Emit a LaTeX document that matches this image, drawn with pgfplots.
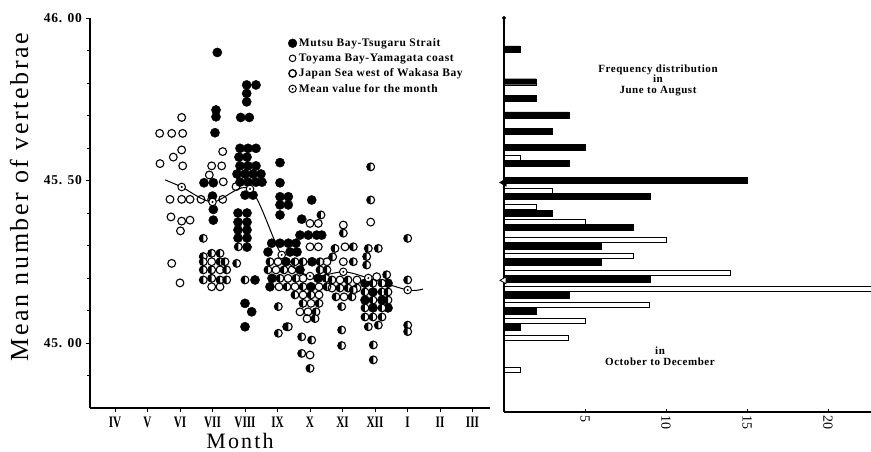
\documentclass[border=0pt]{standalone}
\usepackage{fontspec}
\setmainfont{Liberation Serif}
\newfontfamily\widefont[LetterSpace=10]{Liberation Serif}
\newfontfamily\legfont[LetterSpace=5]{Liberation Serif}
\usepackage{pgfplots}
\pgfplotsset{compat=1.18}
\newcommand\rn[1]{\scalebox{0.7}[1]{\bfseries #1}}
\pgfdeclareplotmark{halfL}{%
  \pgfpathcircle{\pgfpointorigin}{\pgfplotmarksize}%
  \pgfsetfillcolor{white}\pgfusepath{fill}%
  \pgfpathmoveto{\pgfpoint{0pt}{\pgfplotmarksize}}%
  \pgfpatharc{90}{270}{\pgfplotmarksize}%
  \pgfpathclose
  \pgfsetfillcolor{black}\pgfusepath{fill}%
  \pgfpathcircle{\pgfpointorigin}{\pgfplotmarksize}%
  \pgfusepath{stroke}}
\pgfdeclareplotmark{meanmark}{%
  \pgfpathcircle{\pgfpointorigin}{\pgfplotmarksize}%
  \pgfsetfillcolor{white}\pgfusepath{fill,stroke}%
  \pgfpathcircle{\pgfpointorigin}{0.28\pgfplotmarksize}%
  \pgfsetfillcolor{black}\pgfusepath{fill}}
\begin{document}
\begin{tikzpicture}
\useasboundingbox (0pt,0pt) rectangle (871pt,-452pt);
% ---------------- left panel ----------------
\begin{axis}[at={(90pt,-408pt)}, anchor=south west, scale only axis,
  width=400pt, height=390pt,
  xmin=3.231, xmax=15.538, ymin=44.8, ymax=46.0,
  axis x line=bottom, axis y line=left,
  axis line style={-, line width=1.4pt},
  xtick={4,...,15},
  xticklabels={\rn{IV},\rn{V},\rn{VI},\rn{VII},\rn{VIII},\rn{IX},\rn{X},\rn{XI},\rn{XII},\rn{I},\rn{II},\rn{III}},
  xticklabel style={font=\fontsize{16}{17}\selectfont, yshift=-1pt},
  ytick={45,45.5,46},
  yticklabels={\textbf{45. 00},\textbf{45. 50},\textbf{46. 00}},
  yticklabel style={font=\legfont\bfseries\fontsize{13.5}{14}\selectfont},
  minor ytick={44.9,45.1,45.2,45.3,45.4,45.6,45.7,45.8,45.9},
  tick align=outside, major tick length=4pt, minor tick length=2.5pt,
  tick style={line width=0.8pt, black},
  legend style={at={(0.495,0.953)}, anchor=north west, draw=none, fill=none,
    font=\legfont\bfseries\fontsize{11.5}{12}\selectfont, row sep=1.8pt,
    inner sep=0pt},
  legend cell align=left,
  legend image code/.code={\draw[mark repeat=2,mark phase=2,#1] plot coordinates {(0cm,0cm)(0.13cm,0cm)(0.26cm,0cm)};},
  clip=false,
]
\addlegendimage{only marks, mark=*, mark size=4.4pt}
\addlegendentry{Mutsu Bay-Tsugaru Strait}
\addlegendimage{only marks, mark=o, mark size=3.3pt, line width=1pt}
\addlegendentry{Toyama Bay-Yamagata coast}
\addlegendimage{only marks, mark=o, mark size=3.7pt, line width=1.4pt}
\addlegendentry{Japan Sea west of Wakasa Bay}
\addlegendimage{only marks, mark=meanmark, mark size=3.7pt, line width=1pt}
\addlegendentry{Mean value for the month}
% Mutsu Bay - Tsugaru Strait (filled)
\addplot[forget plot, only marks, mark=*, mark size=4.6pt, black] coordinates {
(7.148,45.894)(7.108,45.717)(7.108,45.696)(7.077,45.647)(6.738,45.493)(7.025,45.493)
(7.000,45.452)(7.025,45.411)(7.025,45.378)
(8.052,45.794)(8.338,45.794)(8.052,45.768)(8.052,45.742)(7.868,45.694)(8.132,45.694)
(7.846,45.599)(8.092,45.599)(8.338,45.599)(7.815,45.572)(8.062,45.572)
(7.846,45.545)(8.092,45.545)(8.338,45.545)
(7.754,45.520)(8.000,45.520)(8.246,45.520)(8.492,45.520)
(7.846,45.495)(8.092,45.495)(8.338,45.495)(8.523,45.495)(8.000,45.455)(8.246,45.455)
(7.785,45.400)(8.062,45.400)(7.785,45.372)(8.062,45.372)(7.785,45.348)(8.062,45.348)
(7.785,45.323)(8.062,45.323)(8.062,45.295)(8.308,45.194)(8.000,45.122)(8.206,45.096)(8.000,45.050)
(9.077,45.555)(9.077,45.493)(9.077,45.450)(9.332,45.450)(9.077,45.425)(9.332,45.425)(9.077,45.394)
(8.822,45.307)(9.077,45.307)(9.332,45.307)(9.569,45.307)(8.708,45.280)(9.385,45.280)(9.600,45.280)
(10.052,45.440)(9.745,45.381)(9.692,45.332)(9.948,45.332)(10.206,45.332)(10.360,45.332)
(9.262,45.250)(10.062,45.250)(9.692,45.225)(8.831,45.199)(10.246,45.199)(8.769,45.173)(10.031,45.173)
(11.692,45.184)(12.400,45.184)(11.938,45.157)(11.692,45.132)(12.215,45.132)(11.938,45.108)(12.400,45.108)
};
% Japan Sea west of Wakasa Bay (half filled)
\addplot[forget plot, only marks, mark=halfL, mark size=3.9pt, line width=1.1pt, black] coordinates {
(6.717,45.322)(6.717,45.266)(6.975,45.276)(7.231,45.276)
(6.717,45.250)(7.231,45.250)(7.385,45.250)
(6.717,45.225)(6.975,45.225)(7.437,45.225)
(6.717,45.194)(6.975,45.199)(7.231,45.194)(7.437,45.194)
(7.794,45.296)(7.745,45.245)(8.000,45.194)
(9.025,45.112)(9.283,45.050)(9.025,45.030)
(8.769,45.250)(9.538,45.250)(9.785,45.250)(10.308,45.250)(8.708,45.225)(9.200,45.225)(10.308,45.225)(10.523,45.225)
(9.077,45.199)(9.569,45.199)(10.492,45.199)(9.292,45.173)(9.785,45.173)(10.523,45.173)
(9.538,45.148)(10.031,45.148)(9.785,45.122)(10.277,45.122)(10.185,45.096)(10.154,45.075)
(10.338,45.394)(9.332,45.050)(9.745,45.019)(10.052,45.009)(9.745,44.968)(10.000,44.922)
(11.025,45.338)(10.769,45.291)(10.698,45.265)(10.677,45.194)(11.169,45.194)
(10.923,45.169)(11.169,45.169)(11.446,45.169)(10.800,45.142)(11.292,45.142)
(10.975,45.112)(10.975,45.040)(10.975,44.992)
(11.332,45.296)(11.332,45.250)(11.332,45.163)
(11.868,45.542)(11.868,45.440)(11.794,45.291)(12.102,45.291)(11.745,45.266)(11.745,45.240)
(12.360,45.210)(11.938,45.184)(12.215,45.184)(11.692,45.157)(12.215,45.157)(12.400,45.157)
(11.938,45.132)(12.400,45.132)(11.692,45.108)(12.215,45.108)(11.692,45.080)(11.938,45.080)(12.215,45.080)
(11.794,45.050)(12.102,45.055)(11.948,44.994)(11.948,44.948)
(13.006,45.322)(13.006,45.194)(13.006,45.055)(13.006,45.035)
};
% Toyama Bay - Yamagata coast (open)
\addplot[forget plot, only marks, mark=o, mark size=3.9pt, line width=1.1pt, black] coordinates {
(6.052,45.694)(5.374,45.645)(5.745,45.645)(6.083,45.645)(6.052,45.594)(5.794,45.572)
(5.385,45.552)(6.083,45.545)(5.692,45.442)(6.052,45.442)(6.308,45.442)
(5.723,45.388)(6.052,45.375)(6.308,45.378)(6.015,45.345)(5.745,45.245)(6.000,45.185)
(7.314,45.589)(6.975,45.545)(7.283,45.545)(6.902,45.517)(7.331,45.496)
(6.646,45.442)(6.975,45.442)(7.314,45.442)
(6.975,45.250)(7.231,45.225)(6.975,45.173)(7.231,45.173)
(7.723,45.481)
(9.015,45.250)(10.523,45.250)(8.954,45.225)(9.446,45.225)(9.323,45.199)(9.785,45.199)
(9.046,45.173)(9.538,45.173)(10.277,45.173)(9.785,45.148)(10.277,45.148)(10.031,45.122)
(9.692,45.096)(9.938,45.096)(9.908,45.075)
(10.000,45.368)(10.255,45.368)(10.000,45.296)(10.255,45.296)(10.000,44.963)
(11.025,45.363)(11.077,45.296)(10.923,45.194)(11.446,45.194)(10.677,45.169)(11.046,45.142)(11.025,45.250)
(11.868,45.372)(12.052,45.204)
};
% mean line and mean markers
\addplot[forget plot, smooth, tension=0.5, line width=1pt, black] coordinates {
(5.538,45.502)(6.052,45.480)(7.000,45.434)(8.154,45.474)(9.129,45.271)(10.000,45.206)
(11.025,45.219)(11.794,45.200)(13.006,45.163)(13.477,45.166)
};
\addplot[forget plot, only marks, mark=meanmark, mark size=3.8pt, line width=1pt, black] coordinates {
(6.052,45.480)(7.000,45.434)(8.154,45.474)(9.129,45.271)(10.000,45.206)
(11.025,45.219)(11.794,45.200)(13.006,45.163)
};
\end{axis}
% ---------------- right panel ----------------
\begin{axis}[at={(504pt,-412pt)}, anchor=south west, scale only axis,
  width=367pt, height=394pt,
  xmin=0, xmax=22.65, ymin=44.7877, ymax=46.0,
  axis x line=bottom, axis y line=left,
  axis line style={-, line width=1.4pt},
  ytick=\empty,
  xtick={5,10,15,20}, xticklabels={5,10,15,20},
  xticklabel style={rotate=-90, anchor=west, font=\fontsize{14}{14}\selectfont},
  tick align=inside, major tick length=3pt,
  tick style={line width=0.8pt, black},
]
\addplot[xbar, bar width=6pt, bar shift=0pt, fill=black, draw=black] coordinates {
(1,45.905)(2,45.804)(2,45.753)(4,45.702)(3,45.652)(5,45.603)(4,45.552)(15,45.500)
(9,45.451)(3,45.399)(8,45.355)(6,45.299)(6,45.248)(9,45.196)(4,45.147)(2,45.098)(1,45.048)
};
\addplot[xbar, bar width=5pt, bar shift=0pt, fill=white, draw=black, line width=0.9pt] coordinates {
(1,45.570)(3,45.469)(2,45.418)(5,45.373)(10,45.318)(8,45.269)(14,45.216)(24,45.165)
(9,45.116)(5,45.068)(4,45.016)(1,44.916)
};
\addplot[only marks, mark=*, mark size=1.8pt, black] coordinates {(0,46.0)};
\addplot[only marks, mark=triangle*, mark size=4.5pt, black, mark options={rotate=90, xshift=-2pt}] coordinates {(0,45.500)};
\addplot[only marks, mark=triangle*, mark size=4pt, black, line width=0.8pt, mark options={rotate=90, xshift=-2pt, fill=white}] coordinates {(0,45.199)};
\end{axis}
% ---------------- texts ----------------
\node[rotate=90, font=\widefont\fontsize{26}{28}\selectfont] at (19pt,-197pt) {Mean number of vertebrae};
\node[inner sep=0pt, font=\widefont\fontsize{22}{24}\selectfont] at (240pt,-441pt) {Month};
\node[align=center, font=\legfont\bfseries\fontsize{11}{10.5}\selectfont] at (658pt,-80pt) {Frequency distribution\\in\\June to August};
\node[align=center, font=\legfont\bfseries\fontsize{11}{10.5}\selectfont] at (660pt,-356pt) {in\\October to December};
\end{tikzpicture}
\end{document}
